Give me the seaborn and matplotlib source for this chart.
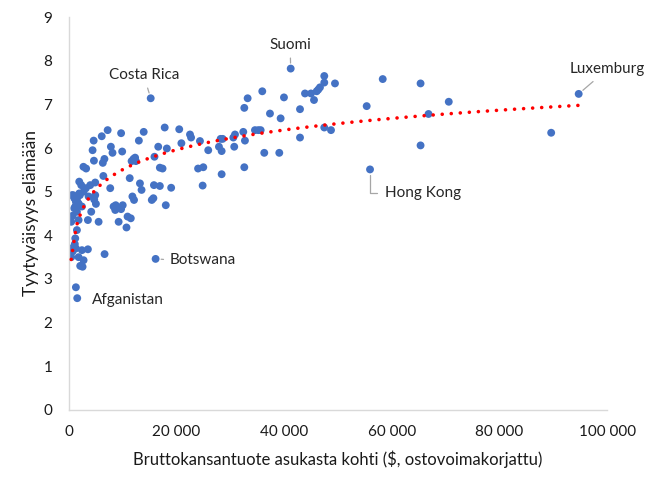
import numpy as np
import pandas as pd
import matplotlib
matplotlib.use('Agg')
import matplotlib.pyplot as plt
from matplotlib.ticker import FuncFormatter
import seaborn as sns

# BKT per asukas ($, PPP) ja tyytyväisyys elämään, luettu kuvasta
gdp = [
    # vasen tiheä rypäs
    1920, 2290, 4890, 3960, 3160, 560, 1920, 2730, 3660, 4890, 7680, 1300, 1800,
    1180, 2420, 1490, 4150, 8300, 8610, 430, 1800, 3530, 5520, 9240, 1490, 1180,
    430, 2420, 3530, 430, 1800, 2730, 6630, 2100, 2540, 5020, 4700, 990, 1610,
    800, 2040, 1300, 690, 1000, 1500, 700, 1100, 1300, 1550,
    # keskialue
    17800, 20500, 7200, 6100, 9700, 13900, 4600, 13000, 22500, 22700, 20900,
    7800, 16600, 18200, 4400, 8100, 9900, 12000, 12300, 12450, 11650, 6600,
    4650, 6300, 15900, 16900, 17400, 2700, 3200, 6400, 11300, 13200, 13500,
    15800, 16900, 19000, 15400, 15700, 11800, 12100, 18000, 8700, 10000, 9700,
    10900, 11500, 10700, 15200, 16110, 24000,
    # oikea puoli
    41210, 47450, 47450, 49440, 58310, 35930, 33210, 32590, 39960, 43870,
    44980, 46340, 46040, 46650, 45540, 42940, 37360, 39340, 55330, 47450,
    48700, 34570, 35190, 35630, 32400, 30860, 30550, 32710, 42940, 28190,
    28570, 24350, 27880, 25890, 30720, 28380, 36300, 39090, 24970, 32590,
    28380, 24850, 55950, 65340, 70580, 66820, 65340, 89610, 94720,
]
happiness = [
    5.23, 5.15, 5.21, 5.15, 5.08, 4.92, 4.96, 5.00, 4.89, 4.92, 5.08, 4.77, 4.73,
    4.66, 4.66, 4.54, 4.54, 4.66, 4.58, 4.31, 4.35, 4.35, 4.31, 4.31, 4.12, 3.93,
    3.70, 3.66, 3.68, 3.50, 3.50, 3.43, 3.57, 3.30, 3.28, 4.72, 4.82, 4.62, 4.69,
    4.92, 4.92, 3.70, 3.63, 4.85, 4.80, 4.45, 3.80, 2.81, 2.56,
    6.47, 6.43, 6.41, 6.27, 6.34, 6.37, 6.17, 6.17, 6.31, 6.24, 6.11,
    6.03, 6.03, 5.99, 5.95, 5.89, 5.92, 5.75, 5.78, 5.70, 5.70, 5.75,
    5.71, 5.66, 5.80, 5.55, 5.53, 5.57, 5.53, 5.36, 5.31, 5.19, 5.04,
    5.15, 5.13, 5.09, 4.81, 4.85, 4.89, 4.81, 4.69, 4.69, 4.69, 4.60,
    4.43, 4.39, 4.18, 7.14, 3.46, 5.53,
    7.82, 7.65, 7.50, 7.48, 7.58, 7.30, 7.14, 6.92, 7.16, 7.25,
    7.25, 7.34, 7.30, 7.39, 7.10, 6.89, 6.79, 6.68, 6.96, 6.47,
    6.41, 6.41, 6.41, 6.41, 6.37, 6.31, 6.24, 6.17, 6.24, 6.21,
    6.21, 6.16, 6.03, 5.95, 6.03, 5.93, 5.89, 5.89, 5.56, 5.56,
    5.40, 5.14, 5.51, 7.48, 7.06, 6.78, 6.06, 6.35, 7.24,
]

# nimetyt maat: (nimi, piste, tekstin paikka)
labels = ['Costa Rica', 'Suomi', 'Luxemburg', 'Hong Kong', 'Botswana', 'Afganistan']
label_points = [(15200, 7.14), (41210, 7.82), (94720, 7.24), (55950, 5.51), (16110, 3.46), (1550, 2.56)]
label_text_pos = [(13900, 7.67), (41100, 8.36), (100000, 7.80), (58700, 4.97), (18700, 3.44), (4300, 2.52)]

df = pd.DataFrame({'gdp': gdp, 'happiness': happiness})

sns.set_theme(style='white')
plt.rcParams['font.family'] = ['Lato', 'DejaVu Sans']

fig = plt.figure(figsize=(6.5, 4.88), dpi=100)
ax = fig.add_axes([0.106, 0.160, 0.828, 0.805])

sns.scatterplot(data=df, x='gdp', y='happiness', ax=ax, color='#4472C4',
                s=32, edgecolor='none', zorder=2)
sns.regplot(data=df, x='gdp', y='happiness', ax=ax, logx=True, ci=None, scatter=False,
            line_kws=dict(color='#FF0000', linewidth=2.6, linestyle=(0, (0.01, 2.5)),
                          dash_capstyle='round', zorder=3))

grey = '#A6A6A6'
for name, pt, tp in zip(labels, label_points, label_text_pos):
    if name == 'Afganistan':
        ax.text(tp[0], tp[1], name, ha='left', va='center', fontsize=11)
    elif name == 'Hong Kong':
        ax.annotate(name, xy=pt, xytext=tp, ha='left', va='center', fontsize=11,
                    arrowprops=dict(arrowstyle='-', color=grey, lw=0.9, relpos=(0, 0.5),
                                    shrinkA=3, shrinkB=4,
                                    connectionstyle='angle,angleA=0,angleB=90,rad=0'))
    elif name == 'Botswana':
        ax.annotate(name, xy=pt, xytext=tp, ha='left', va='center', fontsize=11,
                    arrowprops=dict(arrowstyle='-', color=grey, lw=0.9, relpos=(0, 0.5),
                                    shrinkA=2, shrinkB=4))
    else:
        ax.annotate(name, xy=pt, xytext=tp, ha='center', va='center', fontsize=11,
                    arrowprops=dict(arrowstyle='-', color=grey, lw=0.9,
                                    shrinkA=2, shrinkB=4))

ax.set_xlim(0, 100000)
ax.set_ylim(0, 9)
ax.set_xticks(range(0, 100001, 20000))
ax.set_yticks(range(0, 10))
ax.xaxis.set_major_formatter(FuncFormatter(lambda v, p: f'{int(v):,}'.replace(',', ' ')))
ax.tick_params(axis='both', length=0, labelsize=11, colors='#1a1a1a')
ax.tick_params(axis='x', pad=11)
ax.tick_params(axis='y', pad=12)

ax.set_xlabel('Bruttokansantuote asukasta kohti ($, ostovoimakorjattu)', fontsize=12,
              color='#1a1a1a', labelpad=8)
ax.set_ylabel('Tyytyväisyys elämään', fontsize=12.5, color='#1a1a1a', labelpad=3)

for side in ['top', 'right']:
    ax.spines[side].set_visible(False)
for side in ['left', 'bottom']:
    ax.spines[side].set_color('#D9D9D9')
    ax.spines[side].set_linewidth(1)

fig.savefig('out.png', dpi=100)
